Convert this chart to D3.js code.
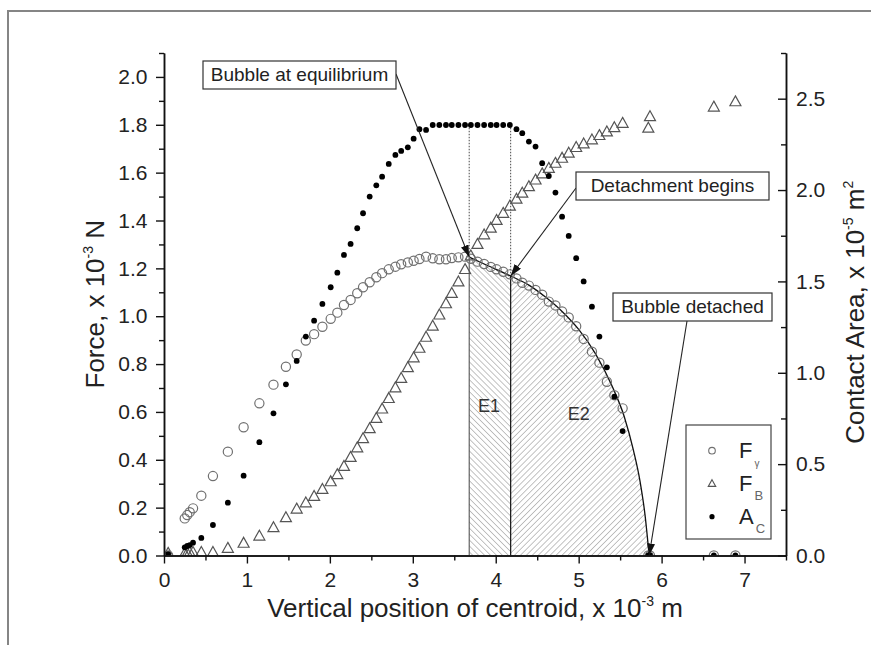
<!DOCTYPE html>
<html>
<head>
<meta charset="utf-8">
<script src="https://cdn.jsdelivr.net/npm/d3@7"></script>
<style>
  body { margin: 0; background: #fff; }
  text { font-family: "Liberation Sans", Arial, Helvetica, sans-serif; }
</style>
</head>
<body>
<svg id="chart" width="871" height="645"></svg>
<script>
// Vertical position of the bubble centroid (x 10^-3 m)
const centroid = [0.05,0.25,0.28,0.31,0.35,0.45,0.59,0.77,0.96,1.15,1.32,1.47,1.60,
  1.71,1.81,1.91,2.01,2.09,2.17,2.25,2.33,2.40,2.48,2.56,2.63,2.71,2.79,2.86,2.94,3.01,3.08,3.16,3.24,3.32,3.40,3.47,3.55,3.63,
  3.70,3.78,3.86,3.94,4.01,4.09,4.17,4.25,4.32,4.40,4.48,4.56,4.64,4.72,4.80,4.88,4.97,5.06,5.16,5.25,5.34,5.43,5.53,5.84,5.86,6.63,6.89];

// Surface tension force F_gamma (x 10^-3 N)
const surfaceForce = [0.0,0.155,0.169,0.181,0.197,0.25,0.332,0.434,0.536,0.636,0.714,0.789,0.84,
  0.898,0.925,0.956,0.989,1.015,1.047,1.068,1.096,1.121,1.142,1.163,1.18,1.196,1.207,1.217,1.225,1.232,1.239,1.249,1.242,1.238,1.238,1.243,1.246,1.249,
  1.24,1.228,1.218,1.206,1.196,1.186,1.175,1.158,1.14,1.128,1.11,1.09,1.061,1.045,1.02,0.995,0.958,0.905,0.852,0.806,0.726,0.67,0.615,0,0,0,0];

// Buoyancy force F_B (x 10^-3 N)
const buoyancy = [0.009,0.008,0.01,0.012,0.013,0.013,0.013,0.03,0.051,0.081,0.116,0.158,0.194,
  0.220,0.247,0.276,0.308,0.338,0.372,0.410,0.450,0.488,0.530,0.573,0.612,0.656,0.700,0.740,0.785,0.826,0.866,0.912,0.958,1.005,1.052,1.095,1.143,1.195,
  1.252,1.30,1.34,1.368,1.40,1.43,1.46,1.489,1.514,1.541,1.569,1.595,1.618,1.639,1.66,1.681,1.705,1.72,1.737,1.755,1.77,1.788,1.806,1.786,1.834,1.874,1.896];

// Contact area A_C (x 10^-5 m^2)
const contactArea = [0.008,0.045,0.052,0.057,0.07,0.096,0.167,0.289,0.437,0.62,0.778,0.937,1.065,
  1.198,1.285,1.377,1.468,1.548,1.645,1.705,1.791,1.873,1.964,2.026,2.073,2.143,2.192,2.214,2.234,2.281,2.333,2.329,2.356,2.356,2.356,2.356,2.356,2.356,
  2.356,2.356,2.356,2.356,2.356,2.356,2.356,2.333,2.311,2.265,2.238,2.147,2.077,1.986,1.854,1.749,1.627,1.50,1.362,1.198,1.03,0.869,0.681,0,0,0,0];

// Fitted F_gamma curve bounding the work areas E1 and E2
const boundaryX = [3.68,3.90,4.18,4.40,4.60,4.80,5.00,5.20,5.40,5.55,5.66,5.74,5.80,5.85];
const boundaryF = [1.247,1.212,1.168,1.13,1.08,1.02,0.945,0.845,0.71,0.58,0.44,0.31,0.17,0.0];

// Key events along the centroid axis
const equilibriumX = 3.68;
const detachStartX = 4.18;
const detachedX = 5.85;
const plateauForce = 1.8;

// Axis ticks
const xMajorTicks = [0,1,2,3,4,5,6,7];
const xMinorTicks = [0.5,1.5,2.5,3.5,4.5,5.5,6.5,7.5];
const forceMajorTicks = [0,0.2,0.4,0.6,0.8,1.0,1.2,1.4,1.6,1.8,2.0];
const forceMinorTicks = [0.1,0.3,0.5,0.7,0.9,1.1,1.3,1.5,1.7,1.9,2.1];
const areaMajorTicks = [0,0.5,1.0,1.5,2.0,2.5];
const areaMinorTicks = [0.25,0.75,1.25,1.75,2.25,2.75];

const svg = d3.select("#chart");
const plotLeft = 164, plotRight = 786, plotTop = 53, plotBottom = 555.5;

const x = d3.scaleLinear().domain([0, 7.5]).range([plotLeft, plotRight]);
const yF = d3.scaleLinear().domain([0, 2.1]).range([plotBottom, plotTop]);
const yA = d3.scaleLinear().domain([0, 2.75]).range([plotBottom, plotTop]);

// outer frame
svg.append("rect").attr("x", 8).attr("y", 11).attr("width", 900).attr("height", 700)
  .attr("fill", "none").attr("stroke", "#858585").attr("stroke-width", 2);

const defs = svg.append("defs");
defs.append("clipPath").attr("id", "plotClip").append("rect")
  .attr("x", plotLeft).attr("y", plotTop).attr("width", plotRight - plotLeft).attr("height", plotBottom - plotTop);

function hatch(id, angle) {
  const p = defs.append("pattern").attr("id", id).attr("patternUnits", "userSpaceOnUse")
    .attr("width", 4.2).attr("height", 10).attr("patternTransform", `rotate(${angle})`);
  p.append("line").attr("x1", 0).attr("y1", 0).attr("x2", 0).attr("y2", 10)
    .attr("stroke", "#7a7a7a").attr("stroke-width", 0.9);
}
hatch("hatchE1", -45);
hatch("hatchE2", 45);

defs.append("marker").attr("id", "arrowHead").attr("viewBox", "0 0 12 8")
  .attr("refX", 12).attr("refY", 4).attr("markerWidth", 12).attr("markerHeight", 8)
  .attr("markerUnits", "userSpaceOnUse").attr("orient", "auto")
  .append("path").attr("d", "M0,0 L12,4 L0,8 Z").attr("fill", "#111");

const boundary = boundaryX.map((v, i) => ({ x: v, f: boundaryF[i] }));
const e1 = boundary.filter(d => d.x <= detachStartX + 1e-9);
const e2 = boundary.filter(d => d.x >= detachStartX - 1e-9);

const area = d3.area().x(d => x(d.x)).y0(yF(0)).y1(d => yF(d.f)).curve(d3.curveMonotoneX);
const line = d3.line().x(d => x(d.x)).y(d => yF(d.f)).curve(d3.curveMonotoneX);

const plot = svg.append("g").attr("clip-path", "url(#plotClip)");

plot.append("path").datum(e1).attr("d", area).attr("fill", "url(#hatchE1)");
plot.append("path").datum(e2).attr("d", area).attr("fill", "url(#hatchE2)");

const fAt = xv => boundary.find(d => Math.abs(d.x - xv) < 1e-9).f;

// region edges
plot.append("line").attr("x1", x(equilibriumX)).attr("x2", x(equilibriumX))
  .attr("y1", yF(0)).attr("y2", yF(fAt(equilibriumX))).attr("stroke", "#444").attr("stroke-width", 1);
plot.append("line").attr("x1", x(detachStartX)).attr("x2", x(detachStartX))
  .attr("y1", yF(0)).attr("y2", yF(fAt(detachStartX))).attr("stroke", "#111").attr("stroke-width", 1.2);

// dotted guides from the contact-area plateau
[equilibriumX, detachStartX].forEach(v => {
  plot.append("line").attr("x1", x(v)).attr("x2", x(v))
    .attr("y1", yF(plateauForce)).attr("y2", yF(fAt(v)))
    .attr("stroke", "#333").attr("stroke-width", 0.9).attr("stroke-dasharray", "1.5,1.5");
});

plot.append("path").datum(boundary).attr("d", line).attr("fill", "none")
  .attr("stroke", "#111").attr("stroke-width", 1.3);

// area labels
plot.append("text").attr("x", x(3.92)).attr("y", yF(0.6)).attr("text-anchor", "middle")
  .attr("font-size", 18).attr("fill", "#333").text("E1");
plot.append("text").attr("x", x(5.0)).attr("y", yF(0.565)).attr("text-anchor", "middle")
  .attr("font-size", 18).attr("fill", "#333").text("E2");

const pts = centroid.map((v, i) => ({ x: v, fg: surfaceForce[i], fb: buoyancy[i], a: contactArea[i] }));

// triangle shape: width w, height 0.9w
const triType = {
  draw(ctx, size) {
    const w = Math.sqrt(size), h = w * 0.9;
    ctx.moveTo(0, -h * 0.6);
    ctx.lineTo(w / 2, h * 0.4);
    ctx.lineTo(-w / 2, h * 0.4);
    ctx.closePath();
  }
};

plot.append("g").selectAll("path").data(pts).join("path")
  .attr("transform", d => `translate(${x(d.x)},${yF(d.fb)})`)
  .attr("d", d3.symbol(triType, 121)())
  .attr("fill", "none").attr("stroke", "#555").attr("stroke-width", 1.2);

plot.append("g").selectAll("circle").data(pts).join("circle")
  .attr("cx", d => x(d.x)).attr("cy", d => yF(d.fg)).attr("r", 4.6)
  .attr("fill", "none").attr("stroke", "#707070").attr("stroke-width", 1.2);

plot.append("g").selectAll("circle").data(pts).join("circle")
  .attr("cx", d => x(d.x)).attr("cy", d => yA(d.a)).attr("r", 2.9)
  .attr("fill", "#000");

// axes
const axisFont = g => g.selectAll("text").attr("font-size", 21).attr("fill", "#222")
  .attr("font-family", '"Liberation Sans", Arial, sans-serif');
const axisStroke = g => { g.selectAll("line").attr("stroke", "#111").attr("stroke-width", 1.4);
  g.select(".domain").attr("stroke", "#111").attr("stroke-width", 1.5); };

svg.append("g").attr("transform", `translate(${plotLeft},0)`)
  .call(d3.axisLeft(yF).tickValues(forceMinorTicks).tickSize(5).tickSizeOuter(0).tickFormat(""))
  .call(axisStroke);
svg.append("g").attr("transform", `translate(${plotLeft},0)`)
  .call(d3.axisLeft(yF).tickValues(forceMajorTicks).tickSize(8).tickSizeOuter(0).tickPadding(8.5)
    .tickFormat(d3.format(".1f")))
  .call(axisStroke).call(axisFont);

svg.append("g").attr("transform", `translate(0,${plotBottom})`)
  .call(d3.axisBottom(x).tickValues(xMinorTicks).tickSize(5).tickSizeOuter(0).tickFormat(""))
  .call(axisStroke);
svg.append("g").attr("transform", `translate(0,${plotBottom})`)
  .call(d3.axisBottom(x).tickValues(xMajorTicks).tickSize(8).tickSizeOuter(0).tickPadding(9)
    .tickFormat(d3.format("d")))
  .call(axisStroke).call(axisFont);

svg.append("g").attr("transform", `translate(${plotRight},0)`)
  .call(d3.axisRight(yA).tickValues(areaMinorTicks).tickSize(-5).tickSizeOuter(0).tickFormat(""))
  .call(axisStroke);
svg.append("g").attr("transform", `translate(${plotRight},0)`)
  .call(d3.axisRight(yA).tickValues(areaMajorTicks).tickSize(-8).tickSizeOuter(0).tickPadding(10)
    .tickFormat(d3.format(".1f")))
  .call(axisStroke).call(axisFont);

// axis titles
const titleSize = 26;
const xTitle = svg.append("text").attr("x", (plotLeft + plotRight) / 2).attr("y", 617)
  .attr("text-anchor", "middle").attr("font-size", titleSize).attr("fill", "#222");
xTitle.append("tspan").text("Vertical position of centroid, x 10");
xTitle.append("tspan").attr("font-size", 14).attr("dy", -11).text("-3");
xTitle.append("tspan").attr("dy", 11).text(" m");

const yTitle = svg.append("text").attr("transform", `translate(104,${(plotTop + plotBottom) / 2}) rotate(-90)`)
  .attr("text-anchor", "middle").attr("font-size", titleSize).attr("fill", "#222");
yTitle.append("tspan").text("Force, x 10");
yTitle.append("tspan").attr("font-size", 14).attr("dy", -11).text("-3");
yTitle.append("tspan").attr("dy", 11).text(" N");

const y2Title = svg.append("text").attr("transform", `translate(864,${(plotTop + plotBottom) / 2 + 8}) rotate(-90)`)
  .attr("text-anchor", "middle").attr("font-size", titleSize).attr("fill", "#222");
y2Title.append("tspan").text("Contact Area, x 10");
y2Title.append("tspan").attr("font-size", 14).attr("dy", -11).text("-5");
y2Title.append("tspan").attr("dy", 11).text(" m");
y2Title.append("tspan").attr("font-size", 14).attr("dy", -11).text("2");

// legend
const lg = svg.append("g");
lg.append("rect").attr("x", 686).attr("y", 425).attr("width", 85).attr("height", 114)
  .attr("fill", "#fff").attr("stroke", "#444").attr("stroke-width", 1.2);
const rows = [
  { y: 450.7, main: "F", sub: "\u03B3", subSize: 10 },
  { y: 483.7, main: "F", sub: "B", subSize: 13 },
  { y: 516.7, main: "A", sub: "C", subSize: 13 }
];
lg.append("circle").attr("cx", 712).attr("cy", rows[0].y).attr("r", 3.3)
  .attr("fill", "none").attr("stroke", "#707070").attr("stroke-width", 1.1);
lg.append("path").attr("transform", `translate(712,${rows[1].y})`)
  .attr("d", d3.symbol(triType, 56)()).attr("fill", "none").attr("stroke", "#555").attr("stroke-width", 1.1);
lg.append("circle").attr("cx", 712).attr("cy", rows[2].y).attr("r", 2.6).attr("fill", "#000");
rows.forEach(r => {
  const t = lg.append("text").attr("x", 739).attr("y", r.y + 7.5).attr("font-size", 22).attr("fill", "#222");
  t.append("tspan").text(r.main);
  t.append("tspan").attr("dx", 2).attr("dy", 9).attr("font-size", r.subSize).attr("fill", "#666").text(r.sub);
});

// annotations
function note(label, bx, by, bw, tip, from) {
  svg.append("line").attr("x1", from[0]).attr("y1", from[1]).attr("x2", tip[0]).attr("y2", tip[1])
    .attr("stroke", "#222").attr("stroke-width", 1.1).attr("marker-end", "url(#arrowHead)");
  svg.append("rect").attr("x", bx).attr("y", by).attr("width", bw).attr("height", 28)
    .attr("fill", "#fff").attr("stroke", "#333").attr("stroke-width", 1.2);
  svg.append("text").attr("x", bx + bw / 2).attr("y", by + 20).attr("text-anchor", "middle")
    .attr("font-size", 19).attr("fill", "#222").text(label);
}
note("Bubble at equilibrium", 203, 61, 193,
  [x(equilibriumX), yF(fAt(equilibriumX))], [396, 74]);
note("Detachment begins", 576, 172, 193,
  [x(detachStartX), yF(fAt(detachStartX))], [576, 188]);
note("Bubble detached", 613, 293, 159,
  [x(detachedX), yF(0)], [687, 321]);
</script>
</body>
</html>
